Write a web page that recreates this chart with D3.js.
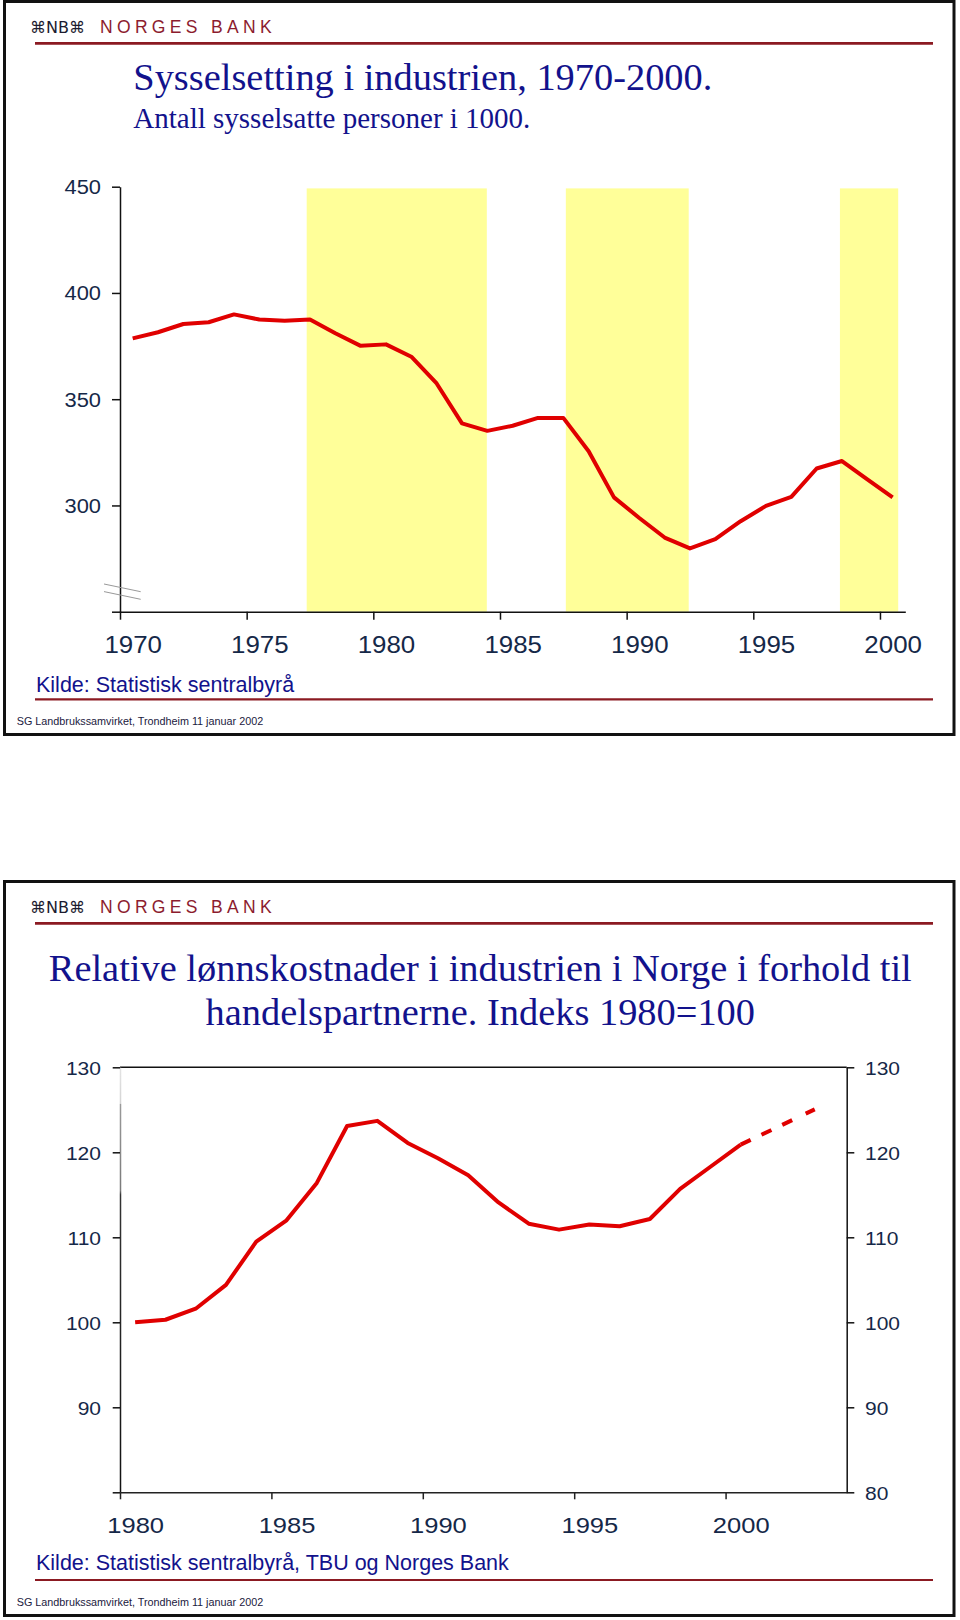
<!DOCTYPE html>
<html>
<head>
<meta charset="utf-8">
<script src="https://cdn.jsdelivr.net/npm/d3@7"></script>
<style>
  body { margin: 0; background: #fff; }
  svg { display: block; }
</style>
</head>
<body>
<svg id="chart" width="960" height="1620"></svg>
<script>
// ---------------- DATA ----------------
// Chart 1: employment in manufacturing, 1000 persons
const years1 = [1970,1971,1972,1973,1974,1975,1976,1977,1978,1979,1980,1981,1982,1983,1984,1985,1986,1987,1988,1989,1990,1991,1992,1993,1994,1995,1996,1997,1998,1999,2000];
const employment = [378.6,381.5,385.4,386.2,389.9,387.5,386.9,387.5,381.0,375.1,375.8,370.0,357.4,338.6,335.1,337.5,341.2,341.2,325.5,303.8,294.1,284.9,279.8,284.1,292.6,299.8,304.0,317.4,320.9,312.3,303.8];
const shadeStart = [1977.37, 1987.6, 1998.42];
const shadeEnd   = [1984.48, 1992.45, 2000.72];
const yTicks1 = [250, 300, 350, 400, 450];
const xTicks1 = [1970, 1975, 1980, 1985, 1990, 1995, 2000];

// Chart 2: relative labour costs, index 1980=100
const years2 = [1980,1981,1982,1983,1984,1985,1986,1987,1988,1989,1990,1991,1992,1993,1994,1995,1996,1997,1998,1999,2000];
const relCost = [100.0,100.3,101.6,104.4,109.5,112.0,116.4,123.1,123.7,121.1,119.3,117.3,114.1,111.6,110.9,111.5,111.3,112.15,115.7,118.3,120.9];
const yearsProj = [2000, 2001, 2002, 2003];
const relCostProj = [120.9, 122.6, 124.3, 126.0];
const yTicks2 = [80, 90, 100, 110, 120, 130];
const xTicks2 = [1980, 1985, 1990, 1995, 2000];

const title1 = "Sysselsetting i industrien, 1970-2000.";
const subtitle1 = "Antall sysselsatte personer i 1000.";
const title2a = "Relative lønnskostnader i industrien i Norge i forhold til";
const title2b = "handelspartnerne. Indeks 1980=100";
const source1 = "Kilde: Statistisk sentralbyrå";
const source2 = "Kilde: Statistisk sentralbyrå, TBU og Norges Bank";
const footer = "SG Landbrukssamvirket, Trondheim 11 januar 2002";

// ---------------- STYLE ----------------
const RED = "#e00000";
const MAROON = "#8b1a22";
const NAVY = "#12128c";
const TICKCOL = "#152848";
const SANS = "'Liberation Sans', Arial, sans-serif";
const SERIF = "'Liberation Serif', 'Times New Roman', serif";

const svg = d3.select("#chart");

function stretch(sel, f) {
  sel.each(function () {
    const w = this.getComputedTextLength();
    if (w > 0) d3.select(this).attr("textLength", w * f).attr("lengthAdjust", "spacingAndGlyphs");
  });
}

function frame(top, height) {
  svg.append("rect").attr("x", 4.5).attr("y", top).attr("width", 949.5).attr("height", height)
    .attr("fill", "#fff").attr("stroke", "#111").attr("stroke-width", 3);
}

function header(dy) {
  svg.append("text").attr("x", 30).attr("y", 33.3 + dy).text("⌘NB⌘")
    .attr("font-family", "'DejaVu Sans', sans-serif").attr("font-size", 16)
    .attr("fill", "#1c1c30").attr("textLength", 55).attr("lengthAdjust", "spacingAndGlyphs");
  svg.append("text").attr("x", 100).attr("y", 33.3 + dy).text("NORGES BANK")
    .attr("font-family", SANS).attr("font-size", 17.5).attr("fill", "#8c1c2e")
    .attr("textLength", 171.7).attr("lengthAdjust", "spacing");
  svg.append("line").attr("x1", 35).attr("x2", 933).attr("y1", 43.4 + dy).attr("y2", 43.4 + dy)
    .attr("stroke", MAROON).attr("stroke-width", 2.7);
}

function bottomText(srcText, srcY, lineY, footY) {
  svg.append("text").attr("x", 36).attr("y", srcY).text(srcText)
    .attr("font-family", SANS).attr("font-size", 21.5).attr("fill", NAVY);
  svg.append("line").attr("x1", 35).attr("x2", 933).attr("y1", lineY).attr("y2", lineY)
    .attr("stroke", MAROON).attr("stroke-width", 2.2);
  svg.append("text").attr("x", 16.7).attr("y", footY).text(footer)
    .attr("font-family", SANS).attr("font-size", 10.8).attr("fill", "#1a2040");
}

// ================= CHART 1 =================
frame(1.5, 733);
header(0);
svg.append("text").attr("x", 133.3).attr("y", 90).text(title1)
  .attr("font-family", SERIF).attr("font-size", 38.4).attr("fill", NAVY);
svg.append("text").attr("x", 133.3).attr("y", 127.5).text(subtitle1)
  .attr("font-family", SERIF).attr("font-size", 29).attr("fill", NAVY);

const x1 = d3.scaleLinear().domain([1970, 2001]).range([120, 905.3]);
const y1 = d3.scaleLinear().domain([250, 450]).range([611.7, 186.7]);
const half1 = (x1(1971) - x1(1970)) / 2;

// shaded periods
svg.append("g").selectAll("rect").data(shadeStart.map((s, i) => [s, shadeEnd[i]])).join("rect")
  .attr("x", d => x1(d[0])).attr("width", d => x1(d[1]) - x1(d[0]))
  .attr("y", y1(449.2)).attr("height", y1(250) - y1(449.2))
  .attr("fill", "#ffff99");

// y axis
const gy1 = svg.append("g").attr("transform", `translate(${x1(1970)},0)`)
  .call(d3.axisLeft(y1).tickValues(yTicks1).tickSize(8).tickSizeOuter(0).tickPadding(11)
    .tickFormat(d => d === 250 ? "" : d));
gy1.selectAll("path, line").attr("stroke", "#111").attr("stroke-width", 1.5);
gy1.selectAll("text").attr("font-family", SANS).attr("font-size", 19.5).attr("fill", TICKCOL).attr("dy", "0.36em");
stretch(gy1.selectAll("text"), 1.12);

// x axis
const gx1 = svg.append("g").attr("transform", `translate(0,${y1(250)})`)
  .call(d3.axisBottom(x1).tickValues(xTicks1).tickSize(8).tickSizeOuter(0).tickFormat(d3.format("d")));
gx1.selectAll("path, line").attr("stroke", "#111").attr("stroke-width", 1.5);
gx1.selectAll("text").attr("x", half1).attr("y", 41).attr("dy", null)
  .attr("font-family", SANS).attr("font-size", 23.3).attr("fill", TICKCOL);
stretch(gx1.selectAll("text"), 1.11);

// axis break marks
[0, 7.6].forEach(o => {
  svg.append("line").attr("x1", 104).attr("y1", 584 + o).attr("x2", 140.7).attr("y2", 591.7 + o)
    .attr("stroke", "#999").attr("stroke-width", 1);
});

// line
const line1 = d3.line().x(d => x1(d[0]) + half1).y(d => y1(d[1]));
svg.append("path").datum(years1.map((yr, i) => [yr, employment[i]]))
  .attr("d", line1).attr("fill", "none").attr("stroke", RED).attr("stroke-width", 4)
  .attr("stroke-linejoin", "round");

bottomText(source1, 692.3, 699.3, 725);

// ================= CHART 2 =================
frame(881.5, 734);
header(880);
svg.append("text").attr("x", 480.3).attr("y", 980.7).attr("text-anchor", "middle").text(title2a)
  .attr("font-family", SERIF).attr("font-size", 38.4).attr("fill", NAVY);
svg.append("text").attr("x", 480.3).attr("y", 1025).attr("text-anchor", "middle").text(title2b)
  .attr("font-family", SERIF).attr("font-size", 38.4).attr("fill", NAVY);

const x2 = d3.scaleLinear().domain([1980, 2004]).range([120, 846.7]);
const y2 = d3.scaleLinear().domain([80, 130]).range([1492.3, 1067.3]);
const half2 = (x2(1981) - x2(1980)) / 2;

// gradient for faded left axis
const defs = svg.append("defs");
const grad = defs.append("linearGradient").attr("id", "leftAxisGrad")
  .attr("gradientUnits", "userSpaceOnUse").attr("x1", 0).attr("x2", 0)
  .attr("y1", y2(130)).attr("y2", y2(80));
[[0, "#e4e4e4"], [0.085, "#d4d4d4"], [0.087, "#9a9a9a"], [0.29, "#7a7a7a"], [0.3, "#333"], [1, "#111"]]
  .forEach(s => grad.append("stop").attr("offset", s[0]).attr("stop-color", s[1]));

// top border line
svg.append("line").attr("x1", x2(1980)).attr("x2", x2(2004)).attr("y1", y2(130)).attr("y2", y2(130))
  .attr("stroke", "#111").attr("stroke-width", 1.5);

// left y axis
const gyl = svg.append("g").attr("transform", `translate(${x2(1980)},0)`)
  .call(d3.axisLeft(y2).tickValues(yTicks2).tickSize(7.3).tickSizeOuter(0).tickPadding(11.7)
    .tickFormat(d => d === 80 ? "" : d));
gyl.select(".domain").attr("stroke", "url(#leftAxisGrad)").attr("stroke-width", 1.5);
gyl.selectAll("line").attr("stroke", "#111").attr("stroke-width", 1.5);
gyl.selectAll("text").attr("font-family", SANS).attr("font-size", 18.6).attr("fill", TICKCOL).attr("dy", "0.36em");
stretch(gyl.selectAll("text"), 1.13);

// right y axis
const gyr = svg.append("g").attr("transform", `translate(${x2(2004)},0)`)
  .call(d3.axisRight(y2).tickValues(yTicks2).tickSize(7.6).tickSizeOuter(0).tickPadding(10.7));
gyr.selectAll("path, line").attr("stroke", "#111").attr("stroke-width", 1.5);
gyr.selectAll("text").attr("font-family", SANS).attr("font-size", 18.6).attr("fill", TICKCOL).attr("dy", "0.36em");
stretch(gyr.selectAll("text"), 1.13);

// x axis
const gx2 = svg.append("g").attr("transform", `translate(0,${y2(80)})`)
  .call(d3.axisBottom(x2).tickValues(xTicks2).tickSize(7).tickSizeOuter(0).tickFormat(d3.format("d")));
gx2.selectAll("path, line").attr("stroke", "#222").attr("stroke-width", 1.5);
gx2.selectAll("text").attr("x", half2).attr("y", 41).attr("dy", null)
  .attr("font-family", SANS).attr("font-size", 22).attr("fill", TICKCOL);
stretch(gx2.selectAll("text"), 1.16);

// lines
const line2 = d3.line().x(d => x2(d[0]) + half2).y(d => y2(d[1]));
svg.append("path").datum(years2.map((yr, i) => [yr, relCost[i]]))
  .attr("d", line2).attr("fill", "none").attr("stroke", RED).attr("stroke-width", 4)
  .attr("stroke-linejoin", "round");
svg.append("path").datum(yearsProj.map((yr, i) => [yr, relCostProj[i]]))
  .attr("d", line2).attr("fill", "none").attr("stroke", RED).attr("stroke-width", 4)
  .attr("stroke-dasharray", "11,12,11,12,11,15,10,40");

bottomText(source2, 1570, 1580, 1606);
</script>
</body>
</html>
